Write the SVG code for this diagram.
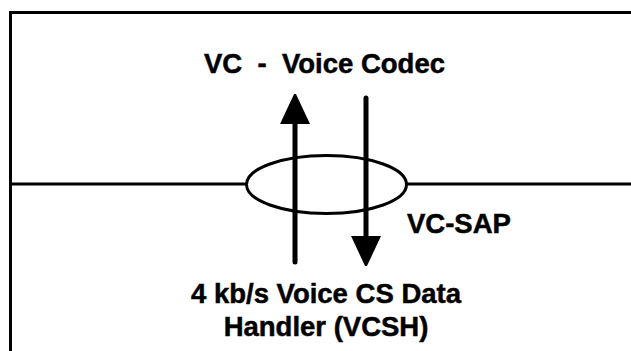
<svg xmlns="http://www.w3.org/2000/svg" width="631" height="351" viewBox="0 0 631 351">
  <style>
    .ln { stroke: #000; stroke-width: 3; fill: none; }
    .arr { stroke: #000; stroke-width: 5; fill: none; stroke-linecap: round; }
    .lbl { font-family: "Liberation Sans", Arial, sans-serif; font-weight: bold; font-size: 27.5px; fill: #000; stroke: #000; stroke-width: 0.5; }
  </style>
  <defs>
    <marker id="ah" viewBox="0 0 30 33" refX="0" refY="16.5" markerUnits="userSpaceOnUse" markerWidth="30" markerHeight="33" orient="auto">
      <path d="M0,1.5 L32,16.5 L0,31.5 Z" fill="#000"/>
    </marker>
  </defs>
  <g id="frame">
    <path class="ln" d="M10.5,351 L10.5,12.5 L631,12.5"/>
    <line class="ln" x1="10.5" y1="184" x2="631" y2="184"/>
  </g>
  <g id="sap">
    <ellipse cx="326.5" cy="184.5" rx="80" ry="29" fill="#fff" stroke="#000" stroke-width="3"/>
  </g>
  <g id="connectors">
    <line class="arr" x1="295" y1="262" x2="295" y2="124" marker-end="url(#ah)"/>
    <line class="arr" x1="366" y1="98" x2="366" y2="236" marker-end="url(#ah)"/>
  </g>
  <g id="vc">
    <text class="lbl" x="324.5" y="73" text-anchor="middle" xml:space="preserve">VC  -  Voice Codec</text>
  </g>
  <g id="vcsap">
    <text class="lbl" x="407" y="233">VC-SAP</text>
  </g>
  <g id="vcsh">
    <text class="lbl" x="326" y="303" text-anchor="middle">4 kb/s Voice CS Data</text>
    <text class="lbl" x="326" y="336" text-anchor="middle">Handler (VCSH)</text>
  </g>
</svg>
